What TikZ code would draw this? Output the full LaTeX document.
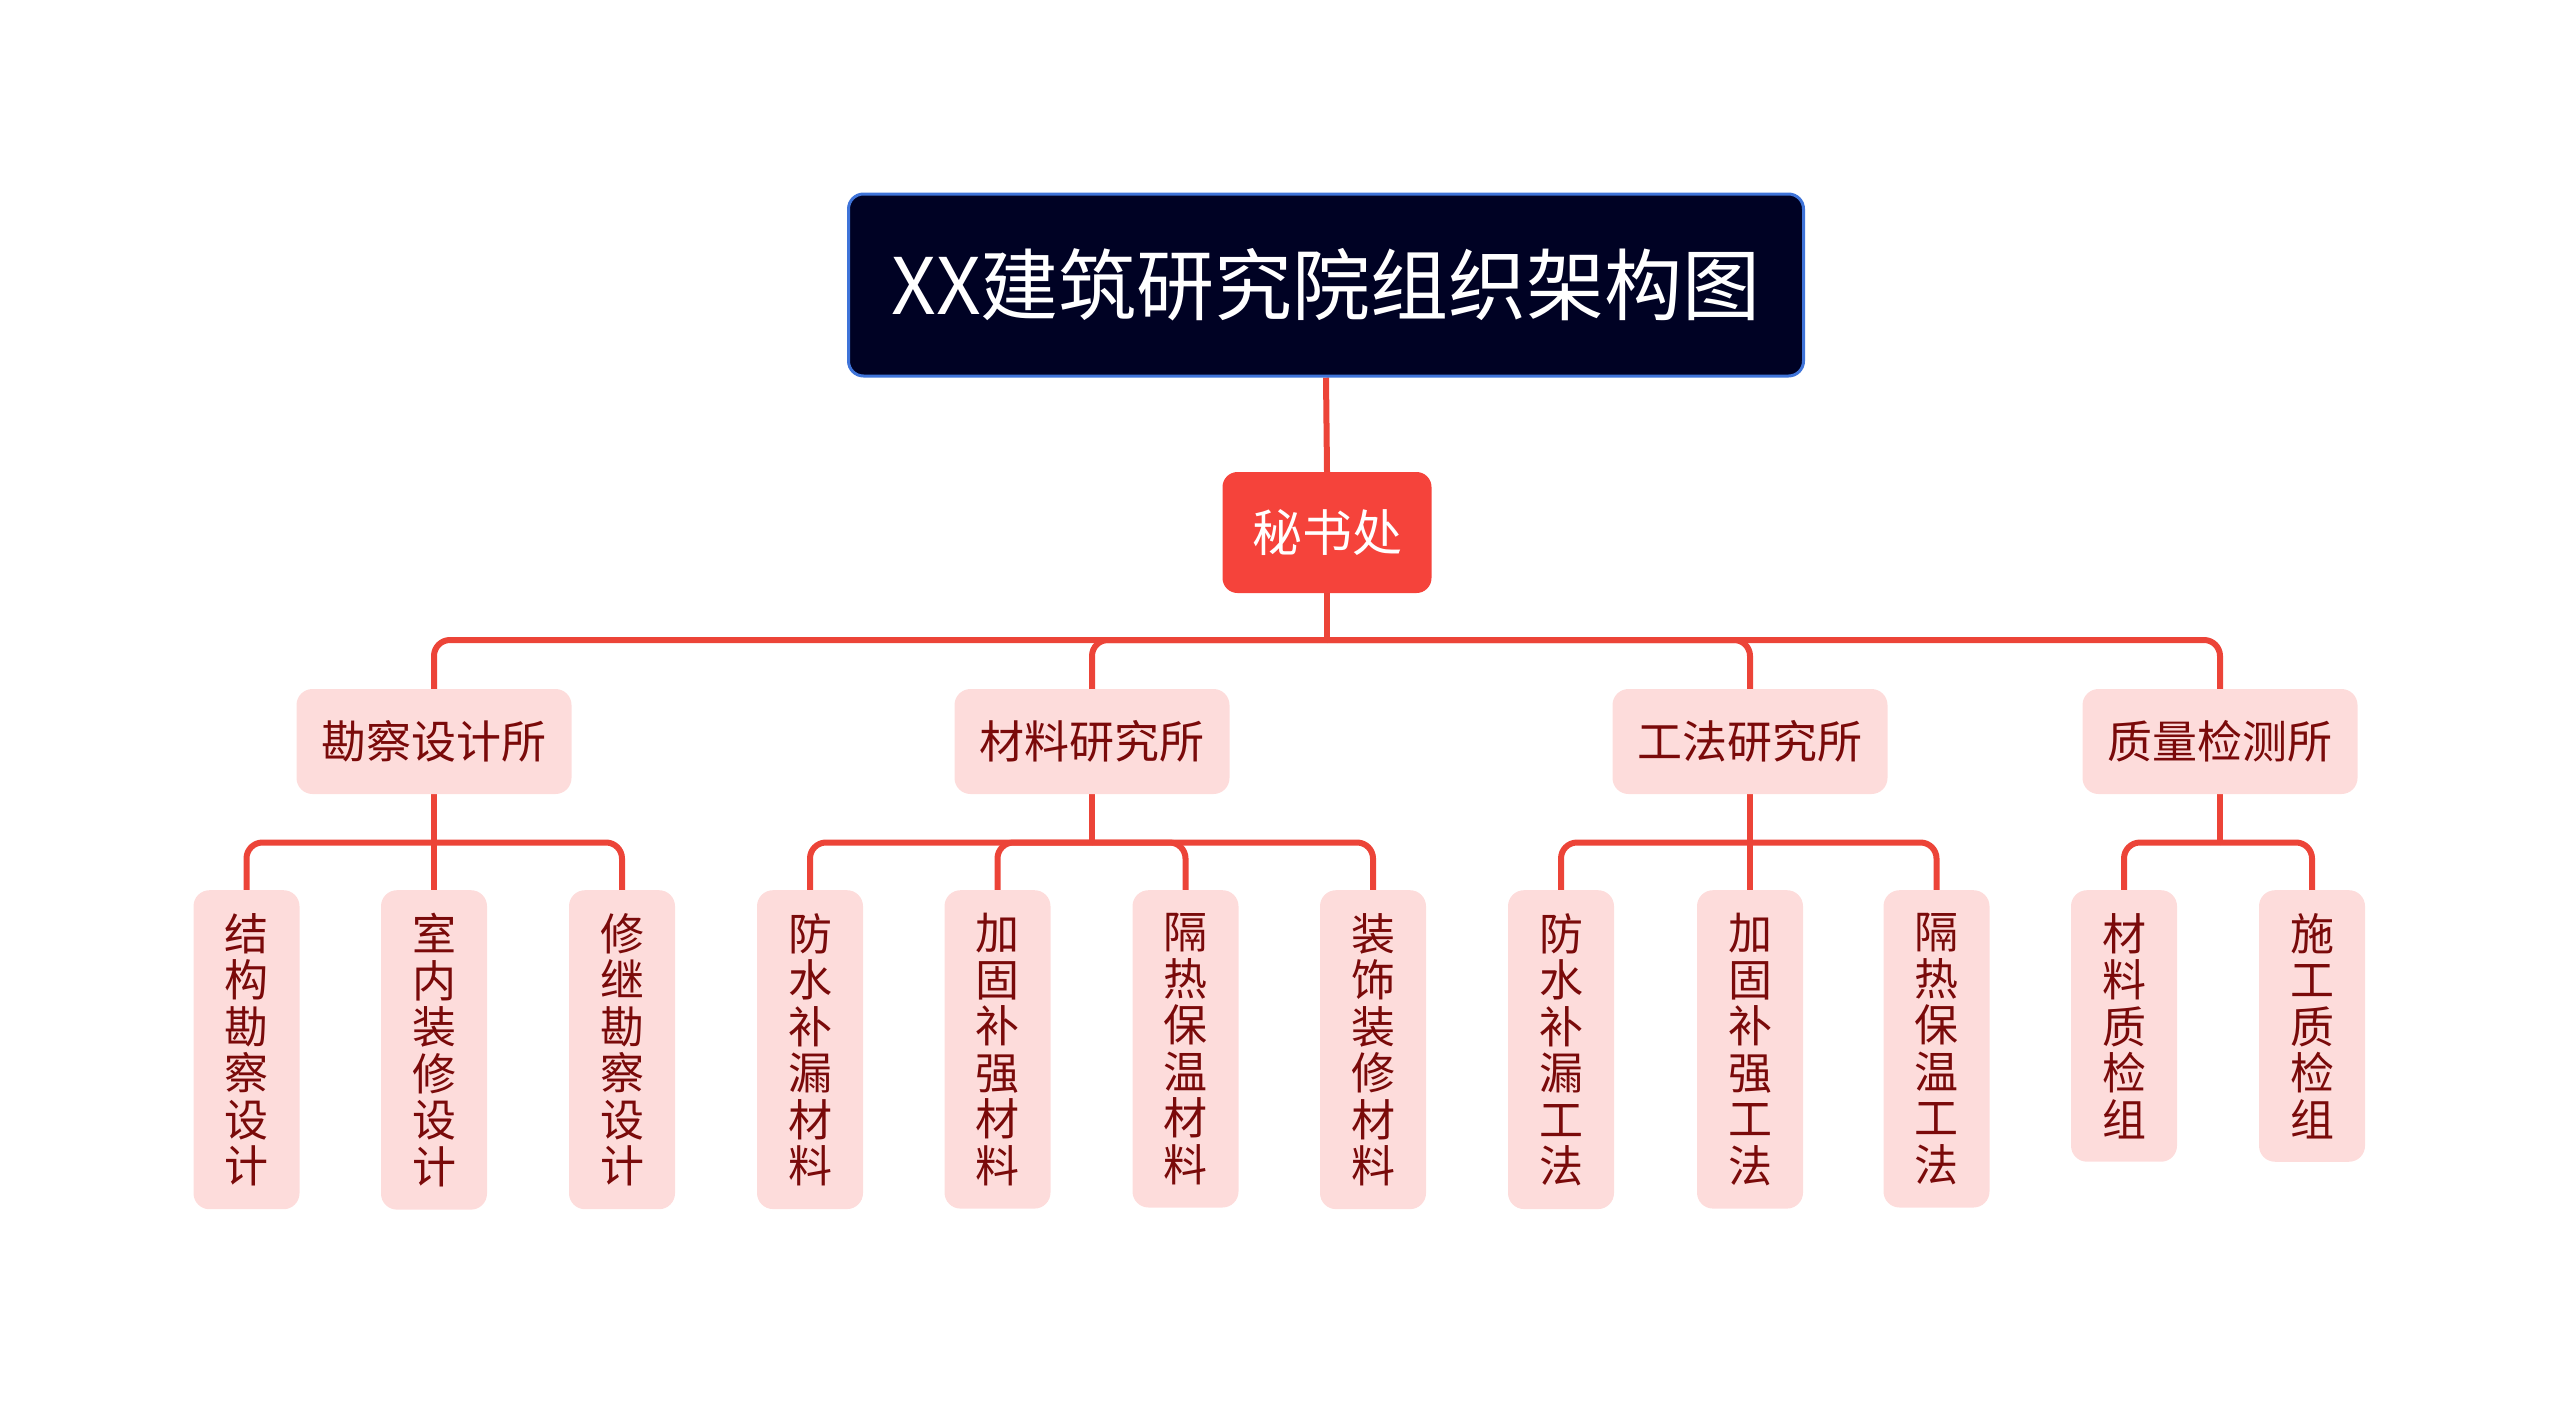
\documentclass[tikz,border=0pt]{standalone}
\usepackage{fontspec}
\usetikzlibrary{backgrounds}
\newfontfamily\cjk{Noto Sans CJK SC}
\definecolor{navy}{HTML}{000224}
\definecolor{navyborder}{HTML}{3F74D9}
\definecolor{secred}{HTML}{F5433B}
\definecolor{linered}{HTML}{EC4438}
\definecolor{pinkfill}{HTML}{FDDCDB}
\definecolor{darkred}{HTML}{7A0A0A}
\begin{document}
\begin{tikzpicture}[x=1pt,y=-1pt,
  titlebox/.style={draw=navyborder,line width=3pt,fill=navy,rounded corners=15pt,
    minimum width=955pt,minimum height=182pt,inner sep=0pt,text=white,
    font=\cjk\fontsize{78}{90}\selectfont},
  secbox/.style={fill=secred,rounded corners=15pt,minimum width=209pt,minimum height=121pt,
    inner sep=0pt,text=white,font=\cjk\fontsize{50}{60}\selectfont},
  deptbox/.style={fill=pinkfill,rounded corners=16pt,minimum width=275pt,minimum height=105pt,
    inner sep=0pt,text=darkred,font=\cjk\fontsize{45}{54}\selectfont},
  leafbox/.style={fill=pinkfill,rounded corners=16pt,minimum width=106pt,inner xsep=0pt,
    inner ysep=23pt,anchor=north,align=center,text=darkred,
    font=\cjk\fontsize{44}{46.5}\selectfont},
  conn/.style={draw=linered,line width=6pt,rounded corners=16pt}]
\useasboundingbox (0,0) rectangle (2560,1403);

\coordinate (busA) at (0,640);
\coordinate (busB) at (0,842.5);

\node[titlebox] (title) at (1326,285) {XX建筑研究院组织架构图};
\node[secbox] (sec) at (1327,532.5) {秘书处};

\node[deptbox] (d1) at (434,741.5) {勘察设计所};
\node[deptbox] (d2) at (1092,741.5) {材料研究所};
\node[deptbox] (d3) at (1750,741.5) {工法研究所};
\node[deptbox] (d4) at (2220,741.5) {质量检测所};

\node[leafbox] (l1) at (246.5,890) {结\\构\\勘\\察\\设\\计};
\node[leafbox] (l2) at (434,890) {室\\内\\装\\修\\设\\计};
\node[leafbox] (l3) at (622,890) {修\\继\\勘\\察\\设\\计};
\node[leafbox] (l4) at (810,890) {防\\水\\补\\漏\\材\\料};
\node[leafbox] (l5) at (997.5,890) {加\\固\\补\\强\\材\\料};
\node[leafbox] (l6) at (1185.5,890) {隔\\热\\保\\温\\材\\料};
\node[leafbox] (l7) at (1373,890) {装\\饰\\装\\修\\材\\料};
\node[leafbox] (l8) at (1561,890) {防\\水\\补\\漏\\工\\法};
\node[leafbox] (l9) at (1750,890) {加\\固\\补\\强\\工\\法};
\node[leafbox] (l10) at (1936.5,890) {隔\\热\\保\\温\\工\\法};
\node[leafbox] (l11) at (2124,890) {材\\料\\质\\检\\组};
\node[leafbox] (l12) at (2312,890) {施\\工\\质\\检\\组};

\begin{scope}[on background layer]
% title to secretariat
\draw[conn] (title.south) -- (sec.north);
% secretariat to departments
\draw[conn] (sec.south) -- (sec.south |- busA);
\draw[conn] (sec.south |- busA) -| (d1.north);
\draw[conn] (sec.south |- busA) -| (d2.north);
\draw[conn] (sec.south |- busA) -| (d3.north);
\draw[conn] (sec.south |- busA) -| (d4.north);
% department 1
\draw[conn] (d1.south) -- (l2.north);
\draw[conn] (d1.south |- busB) -| (l1.north);
\draw[conn] (d1.south |- busB) -| (l3.north);
% department 2
\draw[conn] (d2.south) -- (d2.south |- busB);
\draw[conn] (d2.south |- busB) -| (l4.north);
\draw[conn] (d2.south |- busB) -| (l5.north);
\draw[conn] (d2.south |- busB) -| (l6.north);
\draw[conn] (d2.south |- busB) -| (l7.north);
% department 3
\draw[conn] (d3.south) -- (l9.north);
\draw[conn] (d3.south |- busB) -| (l8.north);
\draw[conn] (d3.south |- busB) -| (l10.north);
% department 4
\draw[conn] (d4.south) -- (d4.south |- busB);
\draw[conn] (d4.south |- busB) -| (l11.north);
\draw[conn] (d4.south |- busB) -| (l12.north);
\end{scope}
\end{tikzpicture}
\end{document}
